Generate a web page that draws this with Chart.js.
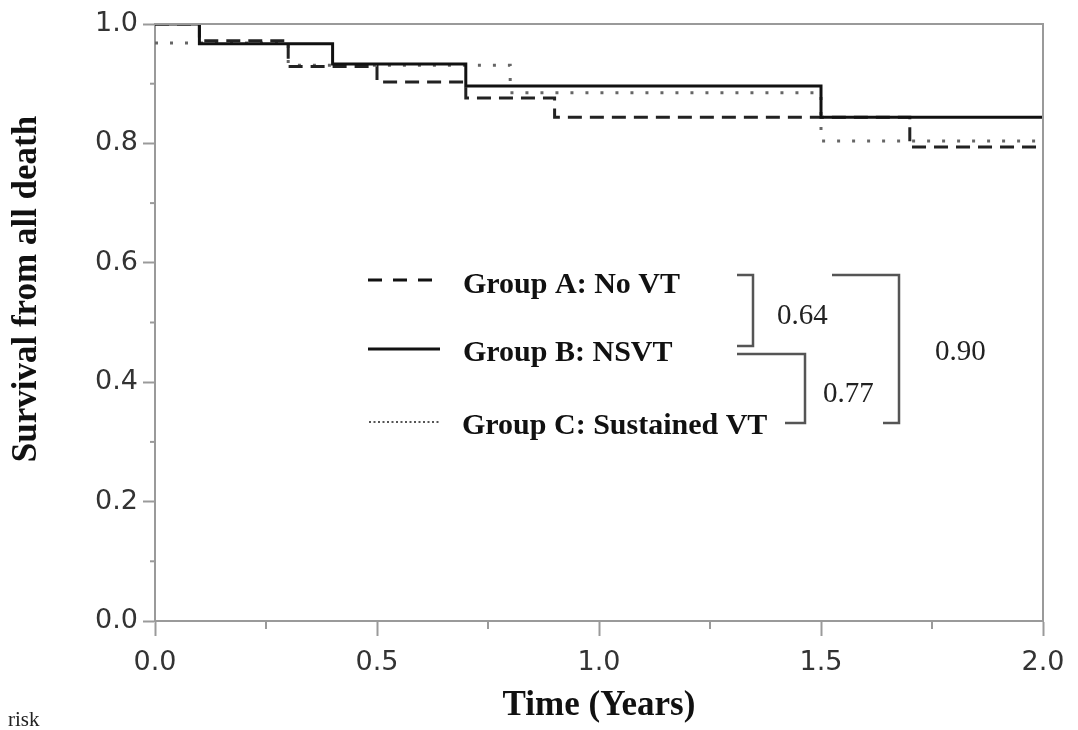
<!DOCTYPE html>
<html>
<head>
<meta charset="utf-8">
<script src="https://cdn.jsdelivr.net/npm/chart.js@4/dist/chart.umd.min.js"></script>
<style>
  html, body { margin: 0; padding: 0; background: #fff; }
  #wrap { width: 1078px; height: 730px; position: relative; }
</style>
</head>
<body>
<div id="wrap"><canvas id="km"></canvas></div>
<script>
// Kaplan-Meier steps (time in years, survival after each drop)
const timesA = [0, 0.1, 0.3, 0.5, 0.7, 0.9, 1.7, 2.0];
const survA  = [1.0, 0.972, 0.929, 0.903, 0.876, 0.844, 0.794, 0.794];
const timesB = [0, 0.1, 0.4, 0.7, 1.5, 2.0];
const survB  = [1.0, 0.967, 0.933, 0.896, 0.844, 0.844];
const timesC = [0, 0.3, 0.8, 1.5, 2.0];
const survC  = [0.968, 0.931, 0.885, 0.804, 0.804];

const groupLabels = ['Group A: No VT', 'Group B: NSVT', 'Group C: Sustained VT'];
const pValues = ['0.64', '0.77', '0.90'];
const yMajor = [0, 0.2, 0.4, 0.6, 0.8, 1.0];
const xMajor = [0, 0.5, 1.0, 1.5, 2.0];

function pts(t, s) {
    return t.map(function(v, i) { return { x: v, y: s[i] }; });
}
function isMajor(list, v) {
    return list.some(function(m) { return Math.abs(m - v) < 1e-6; });
}

const AXIS = '#9a9a9a';
const SERIF = '"Liberation Serif", "Times New Roman", serif';
const TICKFONT = '"DejaVu Sans", sans-serif';

// frame, minor ticks, y title, legend + p-value brackets
const extras = {
    id: 'extras',
    afterDraw: function(chart) {
        const ctx = chart.ctx;
        const a = chart.chartArea;
        const xs = chart.scales.x;
        const ys = chart.scales.y;
        ctx.save();
        ctx.strokeStyle = AXIS;
        ctx.lineWidth = 2;
        ctx.beginPath();
        ctx.moveTo(a.left, a.top);
        ctx.lineTo(a.right, a.top);
        ctx.lineTo(a.right, a.bottom);
        ctx.stroke();
        // short minor ticks
        for (let v = 0.1; v < 1; v += 0.2) {
            const py = ys.getPixelForValue(v);
            ctx.beginPath();
            ctx.moveTo(a.left - 5, py);
            ctx.lineTo(a.left, py);
            ctx.stroke();
        }
        for (let v = 0.25; v < 2; v += 0.5) {
            const px = xs.getPixelForValue(v);
            ctx.beginPath();
            ctx.moveTo(px, a.bottom);
            ctx.lineTo(px, a.bottom + 8);
            ctx.stroke();
        }

        // y title
        ctx.fillStyle = '#111';
        ctx.font = 'bold 35px ' + SERIF;
        ctx.textAlign = 'center';
        ctx.textBaseline = 'middle';
        ctx.translate(27, 289);
        ctx.rotate(-Math.PI / 2);
        ctx.fillText('Survival from all death', 0, 0);
        ctx.setTransform(1, 0, 0, 1, 0, 0);

        // legend samples
        ctx.strokeStyle = '#111';
        ctx.lineWidth = 3;
        ctx.setLineDash([14, 11]);
        ctx.beginPath(); ctx.moveTo(368, 280); ctx.lineTo(442, 280); ctx.stroke();
        ctx.setLineDash([]);
        ctx.beginPath(); ctx.moveTo(368, 349); ctx.lineTo(440, 349); ctx.stroke();
        ctx.strokeStyle = '#555';
        ctx.lineWidth = 2;
        ctx.setLineDash([2, 2.5]);
        ctx.beginPath(); ctx.moveTo(369, 422); ctx.lineTo(440, 422); ctx.stroke();
        ctx.setLineDash([]);

        ctx.fillStyle = '#111';
        ctx.font = 'bold 30px ' + SERIF;
        ctx.textAlign = 'left';
        ctx.textBaseline = 'alphabetic';
        ctx.fillText(groupLabels[0], 463, 293);
        ctx.fillText(groupLabels[1], 463, 361);
        ctx.fillText(groupLabels[2], 462, 434);

        // brackets
        ctx.strokeStyle = '#555';
        ctx.lineWidth = 2.5;
        ctx.beginPath();
        ctx.moveTo(737, 275); ctx.lineTo(753, 275); ctx.lineTo(753, 346); ctx.lineTo(737, 346);
        ctx.stroke();
        ctx.beginPath();
        ctx.moveTo(737, 354); ctx.lineTo(805, 354); ctx.lineTo(805, 423); ctx.lineTo(785, 423);
        ctx.stroke();
        ctx.beginPath();
        ctx.moveTo(832, 275); ctx.lineTo(899, 275); ctx.lineTo(899, 423); ctx.lineTo(883, 423);
        ctx.stroke();

        ctx.font = '29px ' + SERIF;
        ctx.fillStyle = '#222';
        ctx.fillText(pValues[0], 777, 324);
        ctx.fillText(pValues[1], 823, 402);
        ctx.fillText(pValues[2], 935, 360);

        // stray caption fragment at the bottom left
        ctx.font = '21px ' + SERIF;
        ctx.fillText('risk', 8, 726);
        ctx.restore();
    }
};

const lineBase = { pointRadius: 0, stepped: 'before', fill: false, tension: 0 };

new Chart(document.getElementById('km'), {
    type: 'line',
    data: {
        datasets: [
            Object.assign({ label: groupLabels[1], data: pts(timesB, survB), borderColor: '#111', borderWidth: 3 }, lineBase),
            Object.assign({ label: groupLabels[0], data: pts(timesA, survA), borderColor: '#222', borderWidth: 3, borderDash: [14, 8] }, lineBase),
            Object.assign({ label: groupLabels[2], data: pts(timesC, survC), borderColor: '#666', borderWidth: 3, borderDash: [3, 12] }, lineBase)
        ]
    },
    options: {
        responsive: true,
        maintainAspectRatio: false,
        animation: false,
        layout: { padding: { left: 0, right: 35, top: 24, bottom: 0 } },
        plugins: { legend: { display: false }, tooltip: { enabled: false } },
        scales: {
            x: {
                type: 'linear',
                min: 0, max: 2,
                afterFit: function(s) { s.height = 109; },
                border: { color: AXIS, width: 2 },
                grid: {
                    drawOnChartArea: false,
                    tickLength: 15,
                    tickWidth: 2,
                    color: function(c) { return c.tick && isMajor(xMajor, c.tick.value) ? AXIS : 'rgba(0,0,0,0)'; }
                },
                ticks: {
                    stepSize: 0.25,
                    autoSkip: false,
                    maxRotation: 0,
                    padding: 11,
                    color: '#333',
                    font: { family: TICKFONT, size: 27 },
                    callback: function(v) { return isMajor(xMajor, v) ? Number(v).toFixed(1) : ''; }
                },
                title: {
                    display: true,
                    text: 'Time (Years)',
                    color: '#111',
                    font: { family: SERIF, size: 35, weight: 'bold' },
                    padding: { top: 0, bottom: 3 }
                }
            },
            y: {
                min: 0, max: 1,
                afterFit: function(s) { s.width = 155; },
                border: { color: AXIS, width: 2 },
                grid: {
                    drawOnChartArea: false,
                    tickLength: 12,
                    tickWidth: 2,
                    color: function(c) { return c.tick && isMajor(yMajor, c.tick.value) ? AXIS : 'rgba(0,0,0,0)'; }
                },
                ticks: {
                    stepSize: 0.1,
                    autoSkip: false,
                    padding: 5,
                    color: '#333',
                    font: { family: TICKFONT, size: 27 },
                    callback: function(v) { return isMajor(yMajor, v) ? Number(v).toFixed(1) : ''; }
                }
            }
        }
    },
    plugins: [extras]
});
</script>
</body>
</html>
